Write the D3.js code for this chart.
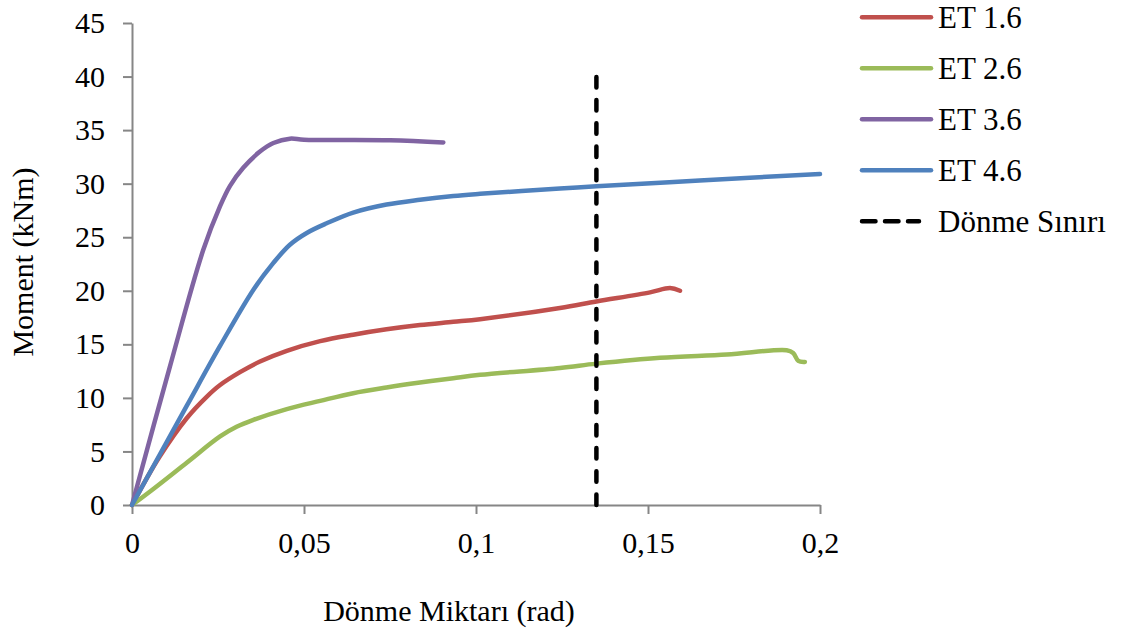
<!DOCTYPE html>
<html>
<head>
<meta charset="utf-8">
<script src="https://cdn.jsdelivr.net/npm/d3@7"></script>
<style>
  body { margin: 0; background: #fff; }
  svg text { font-family: "Liberation Serif", "Times New Roman", serif; fill: #000; }
</style>
</head>
<body>
<div class="chart"></div>
<script>
// values
const et16Rot = [0, 0.008, 0.0159, 0.0217, 0.0256, 0.0314, 0.0372, 0.045, 0.0547, 0.0643, 0.074, 0.0837, 0.0934, 0.1012, 0.1244, 0.135, 0.1506, 0.1564, 0.1593];
const et16M   = [0, 4.5, 8.1, 10.1, 11.2, 12.4, 13.4, 14.4, 15.3, 15.9, 16.4, 16.8, 17.1, 17.35, 18.4, 19.0, 19.85, 20.25, 20.0];

const et26Rot = [0, 0.0062, 0.0159, 0.0256, 0.0304, 0.0353, 0.045, 0.0547, 0.0643, 0.074, 0.0837, 0.0934, 0.1012, 0.1244, 0.135, 0.1535, 0.1729, 0.1903, 0.1922, 0.1937, 0.1956];
const et26M   = [0, 1.5, 3.95, 6.4, 7.3, 7.95, 8.95, 9.72, 10.44, 10.97, 11.43, 11.84, 12.15, 12.8, 13.2, 13.75, 14.05, 14.45, 14.2, 13.45, 13.36];

const et36Rot = [0, 0.011, 0.0207, 0.0256, 0.0285, 0.0324, 0.0372, 0.0411, 0.0459, 0.05, 0.075, 0.0905];
const et36M   = [0, 12.9, 23.8, 27.9, 29.8, 31.5, 33.0, 33.8, 34.2, 34.1, 34.05, 33.85];

const et46Rot = [0, 0.0159, 0.0256, 0.0353, 0.0411, 0.0459, 0.0508, 0.0566, 0.0643, 0.074, 0.0837, 0.0934, 0.1012, 0.1244, 0.135, 0.165, 0.2];
const et46M   = [0, 9.25, 14.85, 20.1, 22.6, 24.3, 25.4, 26.3, 27.3, 28.05, 28.5, 28.85, 29.05, 29.55, 29.75, 30.3, 30.9];

const limitRot = [0.135, 0.135];
const limitM = [0, 40];

const seriesNames = ["ET 1.6", "ET 2.6", "ET 3.6", "ET 4.6", "Dönme Sınırı"];
const xTicks = [0, 0.05, 0.1, 0.15, 0.2];
const xTickLabels = ["0", "0,05", "0,1", "0,15", "0,2"];
const yTicks = [0, 5, 10, 15, 20, 25, 30, 35, 40, 45];

const colors = ["#C0504D", "#9BBB59", "#8064A2", "#4F81BD", "#000"];

let width = 1121, height = 641;
let margin = {top: 23, left: 132};
let plotW = 688, plotH = 482;

const svg = d3.select(".chart")
  .append("svg")
  .attr("width", width)
  .attr("height", height);

let x = d3.scaleLinear().domain([0, 0.2]).range([margin.left, margin.left + plotW]);
let y = d3.scaleLinear().domain([0, 45]).range([margin.top + plotH, margin.top]);

// axes
let yAxis = svg.append("g")
  .attr("transform", "translate(" + margin.left + ",0)")
  .call(d3.axisLeft(y).tickValues(yTicks).tickSize(9).tickSizeOuter(0).tickPadding(18));

let xAxis = svg.append("g")
  .attr("transform", "translate(0," + (margin.top + plotH) + ")")
  .call(d3.axisBottom(x).tickValues(xTicks).tickSize(9).tickSizeOuter(0).tickPadding(18)
    .tickFormat((d, i) => xTickLabels[i]));

[xAxis, yAxis].forEach(function (a) {
  a.selectAll("path, line").attr("stroke", "#868686").attr("stroke-width", 2);
  a.selectAll("text").style("font-size", "30px").attr("fill", "#000");
});

// series
let series = [
  {rot: et16Rot, m: et16M},
  {rot: et26Rot, m: et26M},
  {rot: et36Rot, m: et36M},
  {rot: et46Rot, m: et46M}
];

let line = d3.line()
  .x(d => x(d[0]))
  .y(d => y(d[1]))
  .curve(d3.curveCatmullRom.alpha(0.5));

series.forEach(function (s, i) {
  svg.append("path")
    .datum(s.rot.map((r, k) => [r, s.m[k]]))
    .attr("d", line)
    .attr("fill", "none")
    .attr("stroke", colors[i])
    .attr("stroke-width", 4.5)
    .attr("stroke-linecap", "round")
    .attr("stroke-linejoin", "round");
});

// rotation limit
svg.append("path")
  .datum(limitRot.map((r, k) => [r, limitM[k]]))
  .attr("d", d3.line().x(d => x(d[0])).y(d => y(d[1])))
  .attr("stroke", "#000")
  .attr("stroke-width", 4.5)
  .attr("stroke-linecap", "round")
  .attr("stroke-dasharray", "10.5,12.7");

// axis titles
svg.append("text")
  .attr("x", 449).attr("y", 621)
  .attr("text-anchor", "middle")
  .style("font-size", "30px")
  .text("Dönme Miktarı (rad)");

svg.append("text")
  .attr("transform", "translate(33,262) rotate(-90)")
  .attr("text-anchor", "middle")
  .style("font-size", "30px")
  .text("Moment (kNm)");

// legend
let legend = svg.append("g");
seriesNames.forEach(function (name, i) {
  let ly = 17.3 + i * 51;
  let g = legend.append("g");
  g.append("line")
    .attr("x1", 862).attr("x2", i < 4 ? 931 : 919)
    .attr("y1", ly).attr("y2", ly)
    .attr("stroke", colors[i])
    .attr("stroke-width", 4.5)
    .attr("stroke-linecap", "round")
    .attr("stroke-dasharray", i < 4 ? null : "13.5,9.5");
  g.append("text")
    .attr("x", 938).attr("y", ly + 10.5)
    .style("font-size", "31px")
    .text(name);
});
</script>
</body>
</html>
